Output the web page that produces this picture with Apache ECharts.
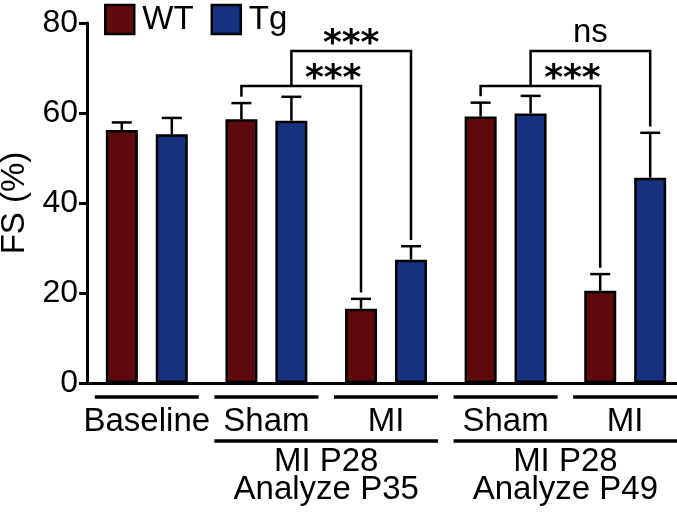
<!DOCTYPE html>
<html>
<head>
<meta charset="utf-8">
<script src="https://cdn.jsdelivr.net/npm/echarts@6/dist/echarts.min.js"></script>
<style>
  html, body { margin: 0; padding: 0; background: #fff; }
  #chart { width: 677px; height: 512px; }
</style>
</head>
<body>
<div id="chart"></div>
<script>
(function () {
    'use strict';

    // data
    var groups = ['Baseline', 'Sham', 'MI', 'Sham', 'MI'];
    var wtMean = [56.2, 58.6, 16.5, 59.2, 20.5];
    var tgMean = [55.3, 58.3, 27.4, 59.9, 45.6];
    var wtSem = [1.7, 3.6, 2.2, 3.1, 3.7];
    var tgSem = [3.6, 5.3, 3.0, 3.9, 10.0];
    var yTicks = [0, 20, 40, 60, 80];

    // significance brackets: [group, series] -> [group, series]
    var bracketFrom = [[1, 0], [1, 1], [3, 0], [3, 1]];
    var bracketTo = [[2, 0], [2, 1], [4, 0], [4, 1]];
    var bracketLevel = [66, 73.8, 66, 73.8];
    var bracketLabel = ['***', '***', '***', 'ns'];

    // study blocks under the axis
    var studyFrom = [1, 3];
    var studyTo = [2, 4];
    var studyLabel = ['MI P28\nAnalyze P35', 'MI P28\nAnalyze P49'];

    var WT_COLOR = '#5e0a0c';
    var TG_COLOR = '#16317e';
    var FONT = 'Liberation Sans, Arial, sans-serif';
    var BAR_W = 32;
    var HALF = 25;          // centre offset of each bar from group centre
    var LW = 2.5;
    var PAD = 1.4;          // gap between error cap and bracket leg

    var means = [wtMean, tgMean];
    var sems = [wtSem, tgSem];

    var errData = [];
    for (var s = 0; s < 2; s++) {
        for (var g = 0; g < groups.length; g++) {
            errData.push([g, means[s][g], sems[s][g], s]);
        }
    }

    function off(s) { return s ? HALF : -HALF; }
    function lineStyle() { return { stroke: '#000', lineWidth: LW }; }

    function renderError(params, api) {
        var g = api.value(0), m = api.value(1), e = api.value(2), s = api.value(3);
        var p0 = api.coord([g, m]);
        var p1 = api.coord([g, m + e]);
        var x = p0[0] + off(s);
        return {
            type: 'group',
            children: [
                { type: 'line', shape: { x1: x, y1: p0[1], x2: x, y2: p1[1] }, style: lineStyle() },
                { type: 'line', shape: { x1: x - 10, y1: p1[1], x2: x + 10, y2: p1[1] }, style: lineStyle() }
            ]
        };
    }

    function bx(api, gs) { return api.coord([gs[0], 0])[0] + off(gs[1]); }

    function renderBracket(params, api) {
        var i = params.dataIndex;
        var lvl = bracketLevel[i];
        var x1 = bx(api, bracketFrom[i]);
        var x2 = bx(api, bracketTo[i]);
        var y = api.coord([0, lvl])[1];

        function legEnd(gs, x) {
            for (var k = 0; k < bracketLevel.length; k++) {
                if (k === i || bracketLevel[k] >= lvl) continue;
                var a = bx(api, bracketFrom[k]), b = bx(api, bracketTo[k]);
                if (x > a && x < b) return api.coord([0, bracketLevel[k]])[1];
            }
            var top = means[gs[1]][gs[0]] + sems[gs[1]][gs[0]] + PAD;
            return api.coord([0, top])[1];
        }

        // centre label, shifting it right of any taller bracket leg inside
        var cx = (x1 + x2) / 2;
        for (var k = 0; k < bracketLevel.length; k++) {
            if (k === i || bracketLevel[k] <= lvl) continue;
            var a = bx(api, bracketFrom[k]);
            if (a > x1 && a < x2) cx = (a + x2) / 2 + 7;
        }
        var isStar = bracketLabel[i].indexOf('*') >= 0;

        return {
            type: 'group',
            children: [
                { type: 'polyline', shape: { points: [[x1, legEnd(bracketFrom[i], x1)], [x1, y], [x2, y], [x2, legEnd(bracketTo[i], x2)]] },
                  style: { stroke: '#000', lineWidth: LW, fill: null } },
                { type: 'text', x: cx, y: isStar ? y + 12 : y - 1,
                  style: { text: bracketLabel[i], align: 'center', verticalAlign: 'bottom',
                           font: isStar ? 'bold 36px DejaVu Sans' : '33px ' + FONT, fill: '#000' } }
            ]
        };
    }

    function renderStudy(params, api) {
        var i = params.dataIndex;
        var band = api.size([1, 0])[0];
        var hw = band * 0.435;
        var y0 = api.coord([0, 0])[1];
        var children = [];
        // first row underline for each group
        if (i === 0) {
            for (var g = 0; g < groups.length; g++) {
                var c = api.coord([g, 0])[0];
                children.push({ type: 'line', shape: { x1: c - hw, y1: y0 + 14, x2: c + hw, y2: y0 + 14 },
                                style: { stroke: '#000', lineWidth: 3.5 } });
            }
        }
        var a = api.coord([studyFrom[i], 0])[0] - hw;
        var b = api.coord([studyTo[i], 0])[0] + hw;
        children.push({ type: 'line', shape: { x1: a, y1: y0 + 58, x2: b, y2: y0 + 58 },
                        style: { stroke: '#000', lineWidth: 3.5 } });
        children.push({ type: 'text', x: (a + b) / 2, y: y0 + 65,
                        style: { text: studyLabel[i], align: 'center', verticalAlign: 'top',
                                 font: '33px ' + FONT, lineHeight: 28, fill: '#000' } });
        return { type: 'group', children: children };
    }

    var chart = echarts.init(document.getElementById('chart'));

    var option = {
        animation: false,
        backgroundColor: '#fff',
        textStyle: { fontFamily: FONT },
        legend: {
            data: ['WT', 'Tg'],
            left: 104,
            top: 3,
            padding: 0,
            itemWidth: 29,
            itemHeight: 29,
            itemGap: 17,
            icon: 'rect',
            itemStyle: { borderColor: '#000', borderWidth: LW },
            textStyle: { fontSize: 33, color: '#000', padding: [0, 0, 0, 3] }
        },
        grid: { left: 87, top: 23, width: 598, height: 360, outerBoundsMode: 'none' },
        xAxis: {
            type: 'category',
            data: groups,
            axisLine: { lineStyle: { color: '#000', width: 3 } },
            axisTick: { show: false },
            axisLabel: { color: '#000', fontSize: 33, margin: 22, interval: 0 }
        },
        yAxis: {
            type: 'value',
            min: yTicks[0],
            max: yTicks[yTicks.length - 1],
            interval: 20,
            name: 'FS (%)',
            nameLocation: 'middle',
            nameGap: 52,
            nameTextStyle: { fontSize: 33, color: '#000' },
            axisLine: { show: true, lineStyle: { color: '#000', width: 3 } },
            axisTick: { show: true, length: 8, lineStyle: { color: '#000', width: 3 } },
            axisLabel: { color: '#000', fontSize: 32, margin: 9 },
            splitLine: { show: false }
        },
        series: [
            {
                name: 'WT', type: 'bar', data: wtMean, barWidth: BAR_W, barGap: '56%',
                itemStyle: { color: WT_COLOR, borderColor: '#000', borderWidth: LW }
            },
            {
                name: 'Tg', type: 'bar', data: tgMean, barWidth: BAR_W,
                itemStyle: { color: TG_COLOR, borderColor: '#000', borderWidth: LW }
            },
            {
                type: 'custom', renderItem: renderError, data: errData, z: 3,
                encode: { x: 0, y: [1, 2] }
            },
            {
                type: 'custom', renderItem: renderBracket, data: bracketLevel.map(function (v, i) { return [i, v]; }),
                z: 4, clip: false
            },
            {
                type: 'custom', renderItem: renderStudy, data: studyLabel.map(function (v, i) { return [i, 0]; }),
                z: 4, clip: false, silent: true
            }
        ]
    };

    chart.setOption(option);
}());
</script>
</body>
</html>
